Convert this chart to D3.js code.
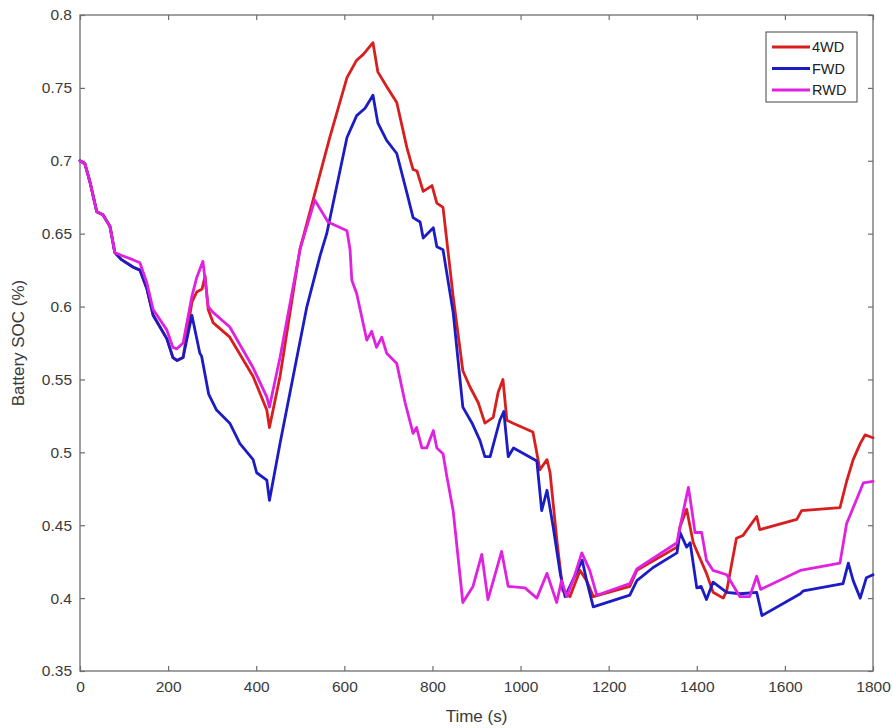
<!DOCTYPE html>
<html><head><meta charset="utf-8">
<script src="https://cdn.jsdelivr.net/npm/d3@7"></script>
<style>body{margin:0;background:#fff;} text{font-family:"Liberation Sans",Arial,sans-serif;}</style>
</head><body>
<svg id="c" width="893" height="728"></svg>
<script>
const seriesNames = ["4WD", "FWD", "RWD"];
const seriesColors = ["#d81e1e", "#1c1cc4", "#e022e0"];
const xTicks = [0, 200, 400, 600, 800, 1000, 1200, 1400, 1600, 1800];
const yTicks = [0.35, 0.4, 0.45, 0.5, 0.55, 0.6, 0.65, 0.7, 0.75, 0.8];

const time4WD = [0,11,23,38,52,68,79,95,121,136,152,166,197,211,220,234,254,265,277,284,291,302,340,393,424,430,454,499,529,567,606,628,643,665,676,696,719,742,756,765,779,799,810,824,847,869,885,904,919,938,949,960,969,983,1028,1044,1060,1067,1083,1096,1112,1135,1150,1165,1248,1264,1355,1362,1377,1392,1422,1437,1460,1468,1490,1505,1536,1543,1627,1638,1725,1740,1755,1771,1782,1800];
const soc4WD = [0.700,0.698,0.685,0.665,0.663,0.655,0.637,0.632,0.627,0.625,0.612,0.594,0.578,0.565,0.563,0.565,0.603,0.610,0.612,0.621,0.598,0.589,0.579,0.552,0.529,0.517,0.552,0.639,0.673,0.716,0.757,0.769,0.773,0.781,0.761,0.751,0.740,0.709,0.694,0.693,0.679,0.683,0.671,0.668,0.607,0.556,0.545,0.534,0.520,0.524,0.541,0.550,0.522,0.520,0.514,0.488,0.495,0.486,0.438,0.405,0.401,0.419,0.412,0.401,0.408,0.419,0.435,0.449,0.461,0.438,0.417,0.404,0.400,0.405,0.441,0.443,0.456,0.447,0.454,0.460,0.462,0.480,0.495,0.506,0.512,0.510];

const timeFWD = [0,11,23,38,52,68,79,95,121,136,152,166,197,211,220,234,254,272,276,292,310,340,363,393,401,424,430,454,515,545,560,606,628,647,665,676,696,719,742,756,772,779,802,810,824,847,869,890,908,919,931,953,962,972,984,1037,1048,1060,1074,1090,1101,1112,1140,1150,1165,1248,1264,1301,1355,1362,1377,1385,1400,1410,1422,1437,1468,1498,1536,1548,1635,1642,1732,1744,1755,1771,1785,1800];
const socFWD = [0.700,0.698,0.685,0.665,0.663,0.655,0.637,0.632,0.627,0.625,0.612,0.594,0.578,0.565,0.563,0.565,0.594,0.568,0.566,0.540,0.529,0.520,0.506,0.495,0.486,0.481,0.467,0.506,0.600,0.635,0.650,0.716,0.731,0.736,0.745,0.726,0.714,0.705,0.678,0.661,0.658,0.647,0.654,0.641,0.639,0.596,0.531,0.520,0.508,0.497,0.497,0.522,0.528,0.497,0.503,0.494,0.460,0.474,0.449,0.417,0.401,0.408,0.426,0.412,0.394,0.402,0.412,0.421,0.431,0.445,0.435,0.438,0.407,0.408,0.399,0.411,0.404,0.403,0.404,0.388,0.403,0.405,0.410,0.424,0.412,0.400,0.414,0.416];

const timeRWD = [0,11,23,38,52,68,79,95,121,136,152,166,197,211,220,234,254,265,279,291,302,340,393,424,430,454,500,533,563,606,613,617,628,651,662,673,685,696,719,738,756,764,776,787,802,810,824,833,847,869,892,912,926,957,972,1010,1037,1060,1082,1093,1105,1119,1139,1157,1173,1248,1264,1355,1362,1381,1389,1396,1411,1422,1437,1468,1498,1520,1536,1545,1635,1725,1740,1755,1778,1800];
const socRWD = [0.700,0.698,0.685,0.665,0.663,0.655,0.637,0.635,0.632,0.630,0.616,0.598,0.584,0.572,0.571,0.575,0.607,0.620,0.631,0.600,0.596,0.586,0.558,0.538,0.531,0.565,0.640,0.673,0.658,0.652,0.639,0.618,0.609,0.577,0.583,0.572,0.579,0.568,0.561,0.534,0.513,0.517,0.503,0.503,0.515,0.503,0.499,0.483,0.460,0.397,0.408,0.430,0.399,0.432,0.408,0.407,0.400,0.417,0.397,0.412,0.401,0.412,0.431,0.419,0.402,0.410,0.420,0.438,0.449,0.476,0.460,0.445,0.445,0.426,0.419,0.416,0.401,0.401,0.415,0.406,0.419,0.424,0.451,0.462,0.479,0.480];

const seriesTimes = [time4WD, timeFWD, timeRWD];
const seriesSoc = [soc4WD, socFWD, socRWD];

const svg = d3.select("#c");
const L = 80, R = 873, T = 15, B = 671;
const x = d3.scaleLinear().domain([0, 1800]).range([L, R]);
const y = d3.scaleLinear().domain([0.35, 0.8]).range([B, T]);
const axisColor = "#6e6e6e", textColor = "#3a3a3a";

svg.append("rect").attr("x", L).attr("y", T).attr("width", R - L).attr("height", B - T)
  .attr("fill", "none").attr("stroke", axisColor).attr("stroke-width", 1.3);

const fmtY = d => String(+d.toFixed(2));
const gx = svg.append("g").attr("transform", `translate(0,${B})`)
  .call(d3.axisBottom(x).tickValues(xTicks).tickSize(-5).tickPadding(10).tickFormat(d => d));
const gxt = svg.append("g").attr("transform", `translate(0,${T})`)
  .call(d3.axisTop(x).tickValues(xTicks).tickSize(-5).tickFormat(""));
const gy = svg.append("g").attr("transform", `translate(${L},0)`)
  .call(d3.axisLeft(y).tickValues(yTicks).tickSize(-5).tickPadding(8).tickFormat(fmtY));
const gyr = svg.append("g").attr("transform", `translate(${R},0)`)
  .call(d3.axisRight(y).tickValues(yTicks).tickSize(-5).tickFormat(""));
[gx, gxt, gy, gyr].forEach(g => {
  g.select(".domain").remove();
  g.selectAll(".tick line").attr("stroke", axisColor).attr("stroke-width", 1.2);
  g.selectAll("text").attr("fill", textColor).style("font-size", "15.5px");
});

const line = d3.line().x(d => x(d[0])).y(d => y(d[1]));
seriesNames.forEach((name, i) => {
  const pts = seriesTimes[i].map((t, j) => [t, seriesSoc[i][j]]);
  svg.append("path").datum(pts).attr("d", line).attr("fill", "none")
    .attr("stroke", seriesColors[i]).attr("stroke-width", 2.8)
    .attr("stroke-linejoin", "round").attr("stroke-linecap", "round");
});

svg.append("text").attr("x", (L + R) / 2).attr("y", 722).attr("text-anchor", "middle")
  .attr("fill", textColor).style("font-size", "17px").text("Time (s)");
svg.append("text").attr("transform", `translate(24,${(T + B) / 2}) rotate(-90)`)
  .attr("text-anchor", "middle").attr("fill", textColor).style("font-size", "17px").text("Battery SOC (%)");

const lg = svg.append("g");
lg.append("rect").attr("x", 766).attr("y", 32).attr("width", 91).attr("height", 70)
  .attr("fill", "#fff").attr("stroke", "#444").attr("stroke-width", 1);
seriesNames.forEach((name, i) => {
  const yy = 47 + i * 21.5;
  lg.append("line").attr("x1", 772).attr("x2", 810).attr("y1", yy).attr("y2", yy)
    .attr("stroke", seriesColors[i]).attr("stroke-width", 2.8);
  lg.append("text").attr("x", 812).attr("y", yy + 5).attr("fill", "#222")
    .style("font-size", "14.5px").text(name);
});
</script>
</body></html>
